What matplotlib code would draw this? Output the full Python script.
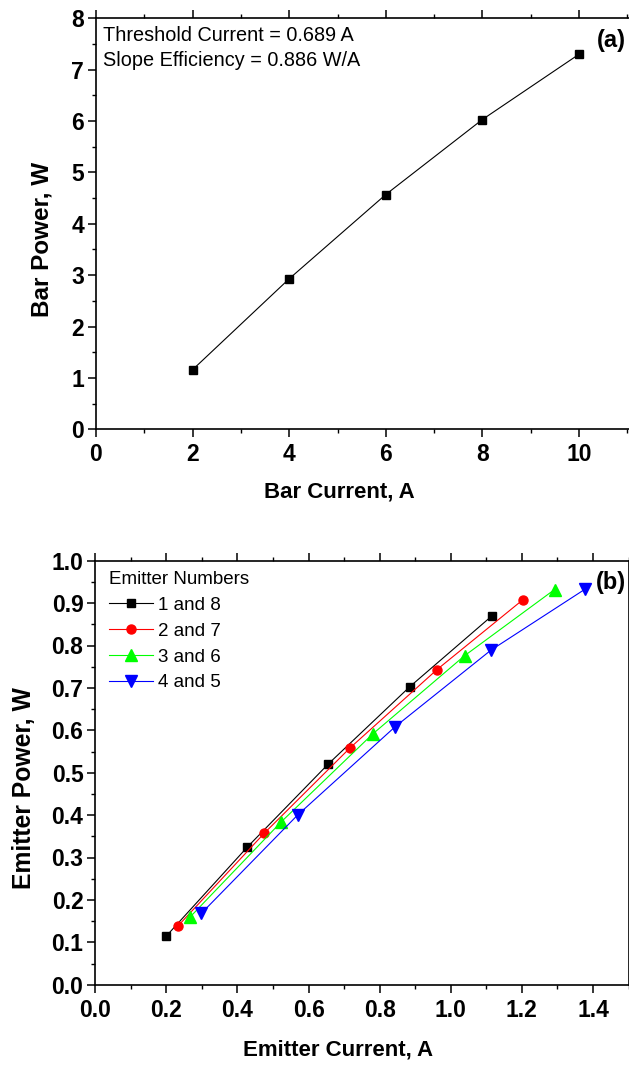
import matplotlib
matplotlib.use("Agg")
import matplotlib.pyplot as plt
from matplotlib.ticker import MultipleLocator, FormatStrFormatter

plt.rcParams['font.family'] = ['Liberation Sans', 'DejaVu Sans']

# (a) whole bar
bar_current = [2, 4, 6, 8, 10]
bar_power = [1.16, 2.93, 4.57, 6.03, 7.30]
bar_notes = ["Threshold Current = 0.689 A", "Slope Efficiency = 0.886 W/A"]

# (b) individual emitters
emitter_labels = ["1 and 8", "2 and 7", "3 and 6", "4 and 5"]
emitter_colors = ["#000000", "#FF0000", "#00FF00", "#0000FF"]
emitter_markers = ["s", "o", "^", "v"]
current_18 = [0.199, 0.427, 0.656, 0.885, 1.116]
power_18 = [0.114, 0.324, 0.521, 0.703, 0.870]
current_27 = [0.232, 0.475, 0.716, 0.961, 1.203]
power_27 = [0.138, 0.357, 0.558, 0.743, 0.908]
current_36 = [0.266, 0.523, 0.780, 1.039, 1.292]
power_36 = [0.159, 0.384, 0.591, 0.776, 0.932]
current_45 = [0.298, 0.569, 0.843, 1.113, 1.378]
power_45 = [0.168, 0.400, 0.608, 0.789, 0.933]
emitter_currents = [current_18, current_27, current_36, current_45]
emitter_powers = [power_18, power_27, power_36, power_45]

W, H = 629, 1068
fig = plt.figure(figsize=(W / 100, H / 100), dpi=100)


def px_axes(left, top, right, bottom):
    return fig.add_axes([left / W, 1 - bottom / H, (right - left) / W, (bottom - top) / H])


def style_axes(ax):
    for s in ax.spines.values():
        s.set_linewidth(1.2)
    ax.tick_params(which='major', direction='out', length=5.5, width=1.1,
                   labelsize=16.5, pad=3)
    ax.tick_params(which='minor', direction='out', length=3, width=1.0)
    ax.tick_params(axis='x', which='major', pad=4.5)
    ax.tick_params(axis='x', which='both', top=True)
    for lab in ax.get_xticklabels() + ax.get_yticklabels():
        lab.set_fontweight('bold')


# ---------- panel (a) ----------
ax1 = px_axes(96, 18.3, 629, 429.3)
ax1.plot(bar_current, bar_power, color='black', lw=0.8, marker='s', ms=6.3)
ax1.set_xlim(0, (629 - 96) / 48.3)
ax1.set_ylim(0, 8)
ax1.xaxis.set_major_locator(MultipleLocator(2))
ax1.xaxis.set_minor_locator(MultipleLocator(1))
ax1.yaxis.set_major_locator(MultipleLocator(1))
ax1.yaxis.set_minor_locator(MultipleLocator(0.5))
ax1.spines['right'].set_visible(False)
style_axes(ax1)
ax1.set_xlabel("Bar Current, A", fontsize=16, fontweight='bold')
ax1.set_ylabel("Bar Power, W", fontsize=17.5, fontweight='bold')
ax1.xaxis.set_label_coords((339.5 - 96) / (629 - 96), (429.3 - 491.5) / 411, transform=ax1.transAxes)
ax1.xaxis.label.set_va('center')
ax1.yaxis.set_label_coords((42 - 96) / (629 - 96), (429.3 - 239) / 411, transform=ax1.transAxes)
ax1.yaxis.label.set_va('center')
ax1.text(103 / W, 1 - 35.5 / H, bar_notes[0], transform=fig.transFigure,
         fontsize=14.3, va='center', ha='left')
ax1.text(103 / W, 1 - 60.5 / H, bar_notes[1], transform=fig.transFigure,
         fontsize=14.3, va='center', ha='left')
fig.text(611.5 / W, 1 - 40 / H, "(a)", fontsize=17, fontweight='bold', ha='center', va='center')

# ---------- panel (b) ----------
ax2 = px_axes(95.3, 560.7, 628.5, 984.7)
for xs, ys, lab, c, m in zip(emitter_currents, emitter_powers, emitter_labels,
                             emitter_colors, emitter_markers):
    ms = {'s': 6.0, 'o': 6.5, '^': 8, 'v': 8}[m]
    ax2.plot(xs, ys, color=c, lw=0.8, marker=m, ms=ms, label=lab)
ax2.set_xlim(0, 1.5)
ax2.set_ylim(0, 1.0)
ax2.xaxis.set_major_locator(MultipleLocator(0.2))
ax2.xaxis.set_minor_locator(MultipleLocator(0.1))
ax2.yaxis.set_major_locator(MultipleLocator(0.1))
ax2.yaxis.set_minor_locator(MultipleLocator(0.05))
ax2.xaxis.set_major_formatter(FormatStrFormatter('%.1f'))
ax2.yaxis.set_major_formatter(FormatStrFormatter('%.1f'))
style_axes(ax2)
ax2.set_xlabel("Emitter Current, A", fontsize=16, fontweight='bold')
ax2.set_ylabel("Emitter Power, W", fontsize=17.8, fontweight='bold')
ax2.xaxis.set_label_coords((338 - 95.3) / 533.2, (984.7 - 1050) / 424, transform=ax2.transAxes)
ax2.xaxis.label.set_va('center')
ax2.yaxis.set_label_coords((24 - 95.3) / 533.2, (984.7 - 788) / 424, transform=ax2.transAxes)
ax2.yaxis.label.set_va('center')
leg = ax2.legend(title="Emitter Numbers", loc='upper left',
                 bbox_to_anchor=((104.3 - 95.3) / 533.2, (984.7 - 566) / 424),
                 frameon=False, fontsize=13.5, title_fontsize=13.5,
                 handlelength=2.35, handletextpad=0.27, labelspacing=0.47,
                 borderpad=0.25, borderaxespad=0, alignment='left')
fig.text(611 / W, 1 - 582 / H, "(b)", fontsize=17, fontweight='bold', ha='center', va='center')

fig.savefig("out.png", dpi=100)
